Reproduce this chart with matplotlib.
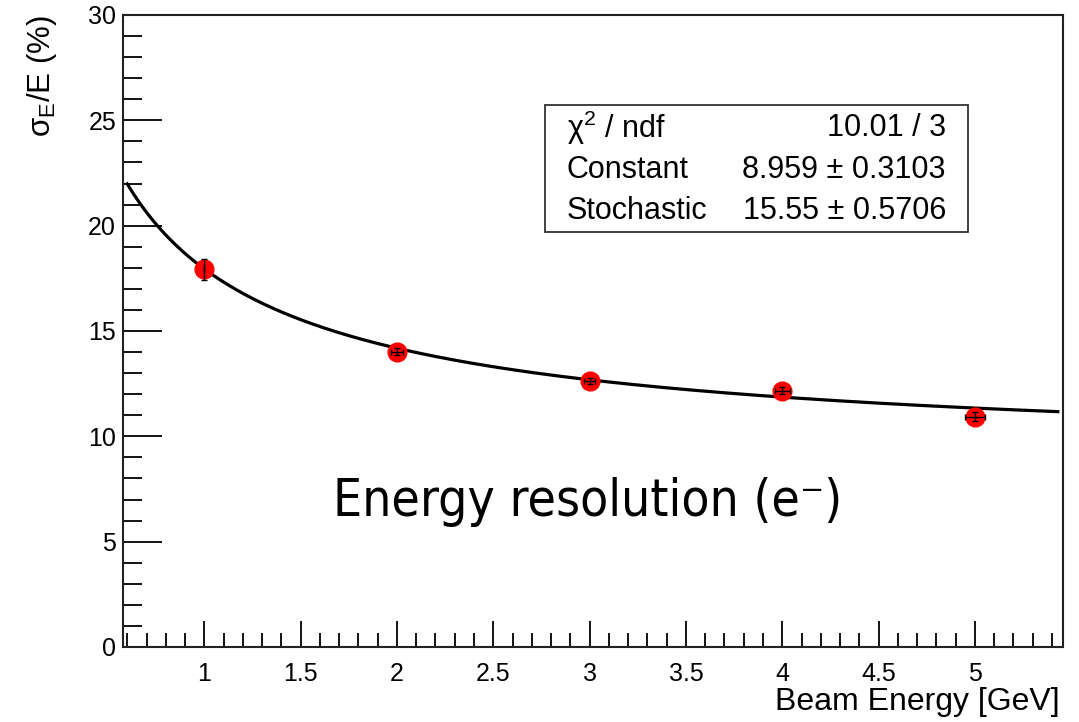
import matplotlib
matplotlib.use('Agg')
import matplotlib.pyplot as plt
from matplotlib.patches import Rectangle
import numpy as np

#*********************************************************************************
# data
energy = [1.0, 2.0, 3.0, 4.0, 5.0]
resol = [17.93, 14.02, 12.63, 12.17, 10.93]
resol_err = [0.50, 0.15, 0.13, 0.18, 0.22]
energy_err = [0.0, 0.03, 0.03, 0.04, 0.05]

# fit parameters (sigma/E = sqrt(C^2 + S^2/E))
const = 8.959
stoch = 15.55
stat_names = ['\u03c7$^{2}$ / ndf', 'Constant', 'Stochastic']
stat_vals = ['10.01 / 3', '8.959 \u00b1 0.3103', '15.55 \u00b1 0.5706']

#*********************************************************************************
plt.rcParams['font.family'] = ['Liberation Sans', 'DejaVu Sans']
plt.rcParams['mathtext.fontset'] = 'custom'
plt.rcParams['mathtext.rm'] = 'Liberation Sans'
plt.rcParams['mathtext.it'] = 'Liberation Sans:italic'
plt.rcParams['mathtext.sf'] = 'Liberation Sans'

W, H = 1079, 722
fig = plt.figure(figsize=(W/100., H/100.), dpi=100)
ax = fig.add_axes([123./W, 1-647./H, (1063.-123.)/W, (647.-15.)/H])

efit = np.linspace(0.6, 5.43, 300)
ax.plot(efit, np.sqrt(const**2 + stoch**2/efit), color='k', lw=2.3, zorder=2)
ax.plot(energy, resol, 'o', color='#ff0000', ms=13.5, mec='#ff0000', zorder=3)
ax.errorbar(energy, resol, yerr=resol_err, xerr=energy_err, fmt='none',
            ecolor='k', elinewidth=1.0, capsize=2.5, capthick=1.0, zorder=4)

ax.set_xlim(0.578, 5.457)
ax.set_ylim(0, 30)
ax.set_xticks(np.arange(1, 5.01, 0.5))
ax.set_xticklabels(['1', '1.5', '2', '2.5', '3', '3.5', '4', '4.5', '5'])
ax.set_xticks(np.arange(0.6, 5.45, 0.1), minor=True)
ax.set_yticks(np.arange(0, 31, 5))
ax.set_yticks(np.arange(0, 31, 1), minor=True)
ax.tick_params(axis='both', which='both', direction='in', top=False, right=False,
               labelsize=18, colors='k', width=1.3)
ax.tick_params(axis='x', which='major', length=19, pad=11)
ax.tick_params(axis='x', which='minor', length=10)
ax.tick_params(axis='y', which='major', length=28, pad=5)
ax.tick_params(axis='y', which='minor', length=14)
for sp in ax.spines.values():
    sp.set_linewidth(1.5)
    sp.set_color('#222222')

fig.text(1060./W, 1-702./H, 'Beam Energy [GeV]', fontsize=23, ha='right', va='center')
fig.text(42./W, 1-15./H, 'σ$_{\\rm E}$/E (%)', fontsize=22.5, rotation=90,
         ha='center', va='top')

# stats box
fig.patches.append(Rectangle((545./W, 1-232./H), (968.-545.)/W, (232.-105.)/H,
                             transform=fig.transFigure, fill=True, fc='white',
                             ec='#333333', lw=1.3, zorder=5))
rows_y = [128, 170, 211]
for name, val, yy in zip(stat_names, stat_vals, rows_y):
    fig.text(567./W, 1-yy/H, name, fontsize=22, ha='left', va='center', zorder=6)
    fig.text(946./W, 1-yy/H, val, fontsize=22, ha='right', va='center', zorder=6)

fig.text(333./W, 1-502./H, 'Energy resolution (e\u207b)', fontsize=37,
         family='DejaVu Sans', fontstretch='condensed', ha='left', va='center')

plt.savefig('out.png', dpi=100)
plt.close()
